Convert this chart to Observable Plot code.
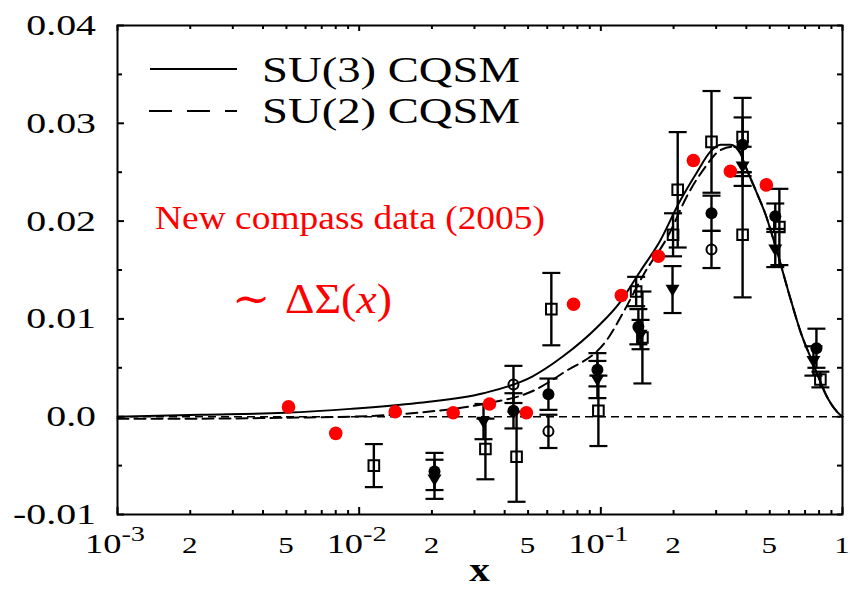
<!DOCTYPE html>
<html><head><meta charset="utf-8">
<script src="https://cdn.jsdelivr.net/npm/d3@7"></script>
<script src="https://cdn.jsdelivr.net/npm/@observablehq/plot@0.6"></script>
<style>
body{margin:0;background:#fff;}
#chart{width:850px;height:589px;}
</style></head><body><div id="chart"></div>
<script>
// ---- theory curves ----
const su3X = [0.001, 0.0022, 0.0049, 0.0092, 0.0174, 0.0327, 0.052, 0.070, 0.097, 0.120, 0.145, 0.176, 0.212, 0.250, 0.284, 0.313, 0.344, 0.378, 0.40, 0.44, 0.48, 0.54, 0.61, 0.67, 0.76, 0.86, 0.95, 1.0];
const su3Y = [0.0000, 0.0002, 0.0004, 0.0008, 0.0014, 0.0024, 0.0041, 0.0062, 0.0092, 0.0117, 0.0148, 0.0180, 0.0220, 0.0250, 0.0271, 0.0278, 0.0278, 0.0269, 0.0254, 0.0230, 0.0207, 0.0166, 0.0120, 0.0087, 0.0053, 0.0021, 0.0005, 0.0];
const su2X = [0.001, 0.0022, 0.0049, 0.0092, 0.0174, 0.0327, 0.052, 0.070, 0.107, 0.126, 0.15, 0.19, 0.23, 0.27, 0.31, 0.35, 0.38, 0.40, 0.44, 0.48, 0.54, 0.61, 0.67, 0.76, 0.86, 0.95, 1.0];
const su2Y = [-0.0002, -0.0002, -0.0001, 0.0000, 0.0004, 0.0013, 0.0026, 0.0045, 0.0080, 0.0110, 0.0145, 0.0185, 0.0228, 0.0255, 0.0272, 0.0276, 0.0270, 0.0254, 0.0230, 0.0207, 0.0166, 0.0120, 0.0087, 0.0053, 0.0021, 0.0005, 0.0];

// ---- data: open squares ----
const sqX = [0.0115, 0.0333, 0.0448, 0.0624, 0.0977, 0.140, 0.1486, 0.199, 0.208, 0.287, 0.386, 0.386, 0.548, 0.81];
const sqY = [-0.0050, -0.0033, -0.0041, 0.0110, 0.0006, 0.0128, 0.0081, 0.0186, 0.0232, 0.0281, 0.0286, 0.0186, 0.0194, 0.0038];
const sqE = [0.0022, 0.0031, 0.0046, 0.0037, 0.0036, 0.0015, 0.0047, 0.0022, 0.0059, 0.0052, 0.0040, 0.0064, 0.0039, 0.0008];
// ---- data: filled circles ----
const fcX = [0.0205, 0.0435, 0.0607, 0.0968, 0.143, 0.287, 0.386, 0.527, 0.78];
const fcY = [-0.0056, 0.0006, 0.0023, 0.0048, 0.0092, 0.0208, 0.0278, 0.0205, 0.0070];
const fcE = [0.0019, 0.0018, 0.0016, 0.0017, 0.0018, 0.0018, 0.0028, 0.0013, 0.0020];
// ---- data: filled down-triangles ----
const ftX = [0.0205, 0.0327, 0.0968, 0.146, 0.198, 0.386, 0.527, 0.758];
const ftY = [-0.0064, -0.0005, 0.0038, 0.0084, 0.0130, 0.0256, 0.0171, 0.0057];
const ftE = [0.0020, 0.0018, 0.0019, 0.0015, 0.0024, 0.0020, 0.0018, 0.0015];
// ---- data: open circles ----
const ocX = [0.0607, 0.0435, 0.287];
const ocY = [-0.0015, 0.0033, 0.0171];
const ocE = [0.0017, 0.0019, 0.0019];
// ---- data: new COMPASS (red) ----
const cpX = [0.0051, 0.0080, 0.0141, 0.0245, 0.0346, 0.0492, 0.0771, 0.1216, 0.173, 0.2415, 0.3436, 0.484];
const cpY = [0.0010, -0.0017, 0.0005, 0.0004, 0.0013, 0.0004, 0.0115, 0.0124, 0.0164, 0.0262, 0.0251, 0.0237];

// ---- axis ticks / labels ----
const yMajor = [-0.01, 0, 0.01, 0.02, 0.03, 0.04];
const yLabels = ["-0.01", "0.0", "0.01", "0.02", "0.03", "0.04"];
const yMinor = [-0.005, 0.005, 0.015, 0.025, 0.035];
const xDecades = [0.001, 0.01, 0.1, 1];
const xMinor = [0.002,0.003,0.004,0.005,0.006,0.007,0.008,0.009,0.02,0.03,0.04,0.05,0.06,0.07,0.08,0.09,0.2,0.3,0.4,0.5,0.6,0.7,0.8,0.9];
const xLabelVals = [0.001, 0.002, 0.005, 0.01, 0.02, 0.05, 0.1, 0.2, 0.5, 1];
const xLabels = ["10^-3", "2", "5", "10^-2", "2", "5", "10^-1", "2", "5", "1"];
const legendLabels = ["SU(3) CQSM", "SU(2) CQSM"];
const noteText = "New compass data (2005)";

const SERIF = "'Liberation Serif', 'Times New Roman', Times, serif";
const W = 850, H = 589, mL = 117, mR = 8, mT = 25, mB = 75;
const frameW = W - mL - mR, frameH = H - mT - mB;
const S = 1.35; // horizontal stretch of the original lettering

const capSym = {draw(ctx, size) { const r = Math.sqrt(size / Math.PI); ctx.moveTo(-r, 0); ctx.lineTo(r, 0); }};
const triDown = {draw(ctx, size) { const r = Math.sqrt(size / Math.PI); ctx.moveTo(-r, -r * 0.7); ctx.lineTo(r, -r * 0.7); ctx.lineTo(0, r); ctx.closePath(); }};

function errMarks(X, Y, E) {
  const I = d3.range(X.length);
  return [
    Plot.ruleX(I, {x: i => X[i], y1: i => Y[i] - E[i], y2: i => Y[i] + E[i], stroke: "black", strokeWidth: 2.4}),
    Plot.dot(I, {x: i => X[i], y: i => Y[i] - E[i], symbol: capSym, r: 9, stroke: "black", strokeWidth: 2.2, fill: "none"}),
    Plot.dot(I, {x: i => X[i], y: i => Y[i] + E[i], symbol: capSym, r: 9, stroke: "black", strokeWidth: 2.2, fill: "none"})
  ];
}
const ix = a => d3.range(a.length);

const plot = Plot.plot({
  width: W, height: H, marginLeft: mL, marginRight: mR, marginTop: mT, marginBottom: mB,
  x: {type: "log", domain: [0.001, 1], axis: null},
  y: {domain: [-0.01, 0.04], axis: null},
  style: {background: "white", fontFamily: SERIF},
  marks: [
    Plot.ruleY([0], {stroke: "black", strokeWidth: 1.5, strokeDasharray: "8,5"}),
    Plot.line(ix(su3X), {x: i => su3X[i], y: i => su3Y[i], curve: "monotone-x", stroke: "black", strokeWidth: 2}),
    Plot.line(ix(su2X), {x: i => su2X[i], y: i => su2Y[i], curve: "monotone-x", stroke: "black", strokeWidth: 2, strokeDasharray: "11,6"}),
    ...errMarks(sqX, sqY, sqE),
    ...errMarks(fcX, fcY, fcE),
    ...errMarks(ftX, ftY, ftE),
    ...errMarks(ocX, ocY, ocE),
    Plot.dot(ix(sqX), {x: i => sqX[i], y: i => sqY[i], symbol: "square", r: 6, fill: "none", stroke: "black", strokeWidth: 2}),
    Plot.dot(ix(ocX), {x: i => ocX[i], y: i => ocY[i], symbol: "circle", r: 5, fill: "none", stroke: "black", strokeWidth: 2}),
    Plot.dot(ix(fcX), {x: i => fcX[i], y: i => fcY[i], symbol: "circle", r: 6, fill: "black", stroke: "none"}),
    Plot.dot(ix(ftX), {x: i => ftX[i], y: i => ftY[i], symbol: triDown, r: 7, fill: "black", stroke: "none"}),
    Plot.dot(ix(cpX), {x: i => cpX[i], y: i => cpY[i], symbol: "circle", r: 6.8, fill: "#ff0000", stroke: "none"}),
    // inward ticks
    Plot.tickY(yMajor, {y: d => d, insetRight: frameW - 7, stroke: "black", strokeWidth: 2}),
    Plot.tickY(yMinor, {y: d => d, insetRight: frameW - 5, stroke: "black", strokeWidth: 2}),
    Plot.tickY(yMajor.concat(yMinor), {y: d => d, insetLeft: frameW - 5, stroke: "black", strokeWidth: 2}),
    Plot.tickX(xDecades, {x: d => d, insetTop: frameH - 7, stroke: "black", strokeWidth: 2}),
    Plot.tickX(xMinor, {x: d => d, insetTop: frameH - 4, stroke: "black", strokeWidth: 2}),
    Plot.tickX(xDecades, {x: d => d, insetBottom: frameH - 6, stroke: "black", strokeWidth: 2}),
    Plot.tickX(xMinor, {x: d => d, insetBottom: frameH - 4, stroke: "black", strokeWidth: 2}),
    Plot.frame({stroke: "black", strokeWidth: 2})
  ]
});
document.getElementById("chart").appendChild(plot);

const sx = plot.scale("x"), sy = plot.scale("y");
const svg = d3.select(plot);
const g = svg.append("g").attr("font-family", SERIF).attr("fill", "black");

// y tick labels
yMajor.forEach((v, i) => {
  g.append("text")
    .attr("transform", `translate(${mL - 21},${sy.apply(v)}) scale(${S},1)`)
    .attr("text-anchor", "end").attr("dy", "0.34em").attr("font-size", 29.5)
    .text(yLabels[i]);
});
// x tick labels
xLabelVals.forEach((v, i) => {
  const lab = xLabels[i];
  const px = sx.apply(v);
  if (lab.startsWith("10^")) {
    const t = g.append("text")
      .attr("transform", `translate(${px - 2},553) scale(${S},1)`)
      .attr("text-anchor", "middle");
    t.append("tspan").attr("font-size", 27).text("10");
    t.append("tspan").attr("font-size", 21).attr("dy", -12).text(lab.slice(3));
  } else {
    g.append("text")
      .attr("transform", `translate(${px},553) scale(${S},1)`)
      .attr("text-anchor", "middle").attr("font-size", 23)
      .text(lab);
  }
});
// x axis title
g.append("text")
  .attr("transform", `translate(${mL + frameW / 2},581) scale(1.25,1)`)
  .attr("text-anchor", "middle").attr("font-size", 33).attr("font-weight", "bold")
  .text("x");

// legend
const lg = svg.append("g").attr("font-family", SERIF).attr("text-anchor", "start").attr("fill", "black");
lg.append("line").attr("x1", 150).attr("x2", 237).attr("y1", 69).attr("y2", 69)
  .attr("stroke", "black").attr("stroke-width", 2);
lg.append("line").attr("x1", 149).attr("x2", 237).attr("y1", 111).attr("y2", 111)
  .attr("stroke", "black").attr("stroke-width", 2).attr("stroke-dasharray", "23,15");
lg.append("text").attr("x", 262).attr("y", 82).attr("font-size", 35).attr("text-anchor", "start")
  .attr("textLength", 258).attr("lengthAdjust", "spacingAndGlyphs").text(legendLabels[0]);
lg.append("text").attr("x", 262).attr("y", 123).attr("font-size", 35).attr("text-anchor", "start")
  .attr("textLength", 258).attr("lengthAdjust", "spacingAndGlyphs").text(legendLabels[1]);

// red annotations
const ann = svg.append("g").attr("font-family", SERIF).attr("fill", "#ff0000").attr("text-anchor", "start");
ann.append("text").attr("x", 155).attr("y", 229).attr("font-size", 34).attr("text-anchor", "start")
  .attr("textLength", 390).attr("lengthAdjust", "spacingAndGlyphs").text(noteText);
const t2 = ann.append("text").attr("x", 232).attr("y", 313).attr("font-size", 42).attr("text-anchor", "start")
  .attr("textLength", 160).attr("lengthAdjust", "spacingAndGlyphs");
t2.append("tspan").attr("font-family", "'DejaVu Serif', serif").text("\u223C ");
t2.append("tspan").text("\u0394\u03A3(");
t2.append("tspan").attr("font-style", "italic").text("x");
t2.append("tspan").text(")");
</script>
</body></html>
